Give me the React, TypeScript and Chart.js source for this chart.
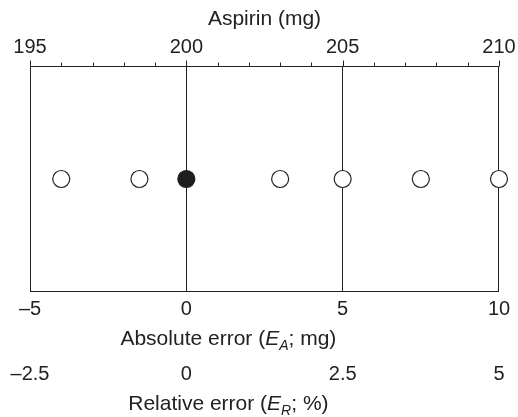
import { useEffect, useRef } from 'react';
import { Chart, registerables } from 'chart.js';
Chart.register(...registerables);

// ---- data ----
const absoluteErrors = [-4, -1.5, 0, 3, 5, 7.5, 10];
const trueValueError = 0;
const referenceLines = [0, 5];
const aspirinMin = 195;
const aspirinMax = 210;
const aspirinMinorStep = 1;
const aspirinMajorStep = 5;
const absoluteMin = -5;
const absoluteMax = 10;
const absoluteStep = 5;
const relativeMin = -2.5;
const relativeMax = 5;
const relativeStep = 2.5;
const topTitle = 'Aspirin (mg)';
const absoluteTitle: [string, string][] = [['Absolute error (', 'n'], ['E', 'i'], ['A', 's'], ['; mg)', 'n']];
const relativeTitle: [string, string][] = [['Relative error (', 'n'], ['E', 'i'], ['R', 's'], ['; %)', 'n']];

// ---- style ----
const FAMILY = "'Liberation Sans', Arial, Helvetica, sans-serif";
const INK = '#222';
const LINE = '#222';
const TICK_SIZE = 20;
const TITLE_SIZE = 21;
const SUB_SIZE = 14;
const TITLE_X_FRACTION = 0.423;

const dash = (v: number | string) => String(v).replace('-', '\u2013');

function drawRich(ctx: CanvasRenderingContext2D, parts: [string, string][], cx: number, baseline: number) {
  const fontFor = (k: string) =>
    k === 'n' ? `${TITLE_SIZE}px ${FAMILY}` : k === 'i' ? `italic ${TITLE_SIZE}px ${FAMILY}` : `italic ${SUB_SIZE}px ${FAMILY}`;
  let total = 0;
  const widths = parts.map(([t, k]) => {
    ctx.font = fontFor(k);
    const w = ctx.measureText(t).width;
    total += w;
    return w;
  });
  let x = cx - total / 2;
  ctx.fillStyle = INK;
  ctx.textBaseline = 'alphabetic';
  ctx.textAlign = 'left';
  parts.forEach(([t, k], i) => {
    ctx.font = fontFor(k);
    ctx.fillText(t, x, baseline + (k === 's' ? 5 : 0));
    x += widths[i];
  });
}

const framePlugin = {
  id: 'frame',
  beforeDatasetsDraw(chart: any) {
    const { ctx, chartArea: a } = chart;
    ctx.save();
    ctx.strokeStyle = LINE;
    ctx.lineWidth = 1;
    const l = Math.round(a.left) + 0.5;
    const r = Math.round(a.right) - 0.5;
    const t = Math.round(a.top) + 0.5;
    const b = Math.round(a.bottom) - 0.5;
    ctx.strokeRect(l, t, r - l, b - t);
    // top axis tick marks (major longer)
    const s = chart.scales.x2;
    s.ticks.forEach((tk: any) => {
      const px = Math.round(s.getPixelForValue(tk.value)) + 0.5;
      const len = tk.value % aspirinMajorStep === 0 ? 6 : 4;
      ctx.beginPath();
      ctx.moveTo(px, t);
      ctx.lineTo(px, t - len);
      ctx.stroke();
    });
    ctx.restore();
  },
  afterDraw(chart: any) {
    const { ctx, chartArea: a } = chart;
    const cx = a.left + (a.right - a.left) * TITLE_X_FRACTION;
    ctx.save();
    drawRich(ctx, absoluteTitle, cx, chart.scales.x.top + 53);
    drawRich(ctx, relativeTitle, cx, chart.scales.x3.top + 53);
    ctx.restore();
  },
};

export default function App() {
  const ref = useRef<HTMLCanvasElement>(null);
  useEffect(() => {
    document.body.style.margin = '0';
    const canvas = ref.current!;
    Chart.defaults.font.family = FAMILY;
    Chart.defaults.color = INK;
    const chart = new Chart(canvas, {
      type: 'scatter',
      data: {
        datasets: [
          {
            data: absoluteErrors.map((x) => ({ x, y: 0.5 })),
            pointRadius: 8.5,
            pointHoverRadius: 8.5,
            pointBorderWidth: 1.2,
            pointBorderColor: LINE,
            pointBackgroundColor: absoluteErrors.map((x) => (x === trueValueError ? '#1e1e1e' : '#ffffff')),
            clip: false as any,
          },
        ],
      },
      options: {
        responsive: false,
        animation: false,
        events: [],
        layout: { padding: { left: 30, right: 19, top: 0, bottom: 0 } },
        plugins: { legend: { display: false }, tooltip: { enabled: false } },
        scales: {
          y: { display: false, min: 0, max: 1 },
          x: {
            type: 'linear',
            position: 'bottom',
            weight: 0,
            min: absoluteMin,
            max: absoluteMax,
            ticks: {
              stepSize: absoluteStep,
              maxRotation: 0,
              padding: 5,
              font: { size: TICK_SIZE },
              color: INK,
              callback: (v: any) => dash(v),
            },
            grid: {
              drawTicks: false,
              lineWidth: 1,
              color: (c: any) => (referenceLines.includes(c.tick?.value) ? LINE : 'transparent'),
            },
            border: { display: false },
            afterFit: (s: any) => {
              s.height = 65;
            },
          },
          x3: {
            type: 'linear',
            position: 'bottom',
            weight: 1,
            min: relativeMin,
            max: relativeMax,
            ticks: {
              stepSize: relativeStep,
              maxRotation: 0,
              padding: 5,
              font: { size: TICK_SIZE },
              color: INK,
              callback: (v: any) => dash(v),
            },
            grid: { display: false, drawTicks: false },
            border: { display: false },
            afterFit: (s: any) => {
              s.height = 60;
            },
          },
          x2: {
            type: 'linear',
            position: 'top',
            min: aspirinMin,
            max: aspirinMax,
            ticks: {
              stepSize: aspirinMinorStep,
              autoSkip: false,
              maxRotation: 0,
              padding: 1,
              font: { size: TICK_SIZE },
              color: INK,
              callback: (v: any) => (Number(v) % aspirinMajorStep === 0 ? String(v) : ''),
            },
            grid: { drawOnChartArea: false, drawTicks: true, tickLength: 6, tickColor: 'transparent' },
            border: { display: false },
            title: {
              display: true,
              text: topTitle,
              color: INK,
              font: { size: TITLE_SIZE },
              padding: { top: 7, bottom: 0 },
            },
            afterFit: (s: any) => {
              s.height = 66;
            },
          },
        } as any,
      },
      plugins: [framePlugin],
    });
    return () => chart.destroy();
  }, []);
  return (
    <div style={{ width: 518, height: 417 }}>
      <canvas ref={ref} width={518} height={417} style={{ width: 518, height: 417, display: 'block' }} />
    </div>
  );
}
